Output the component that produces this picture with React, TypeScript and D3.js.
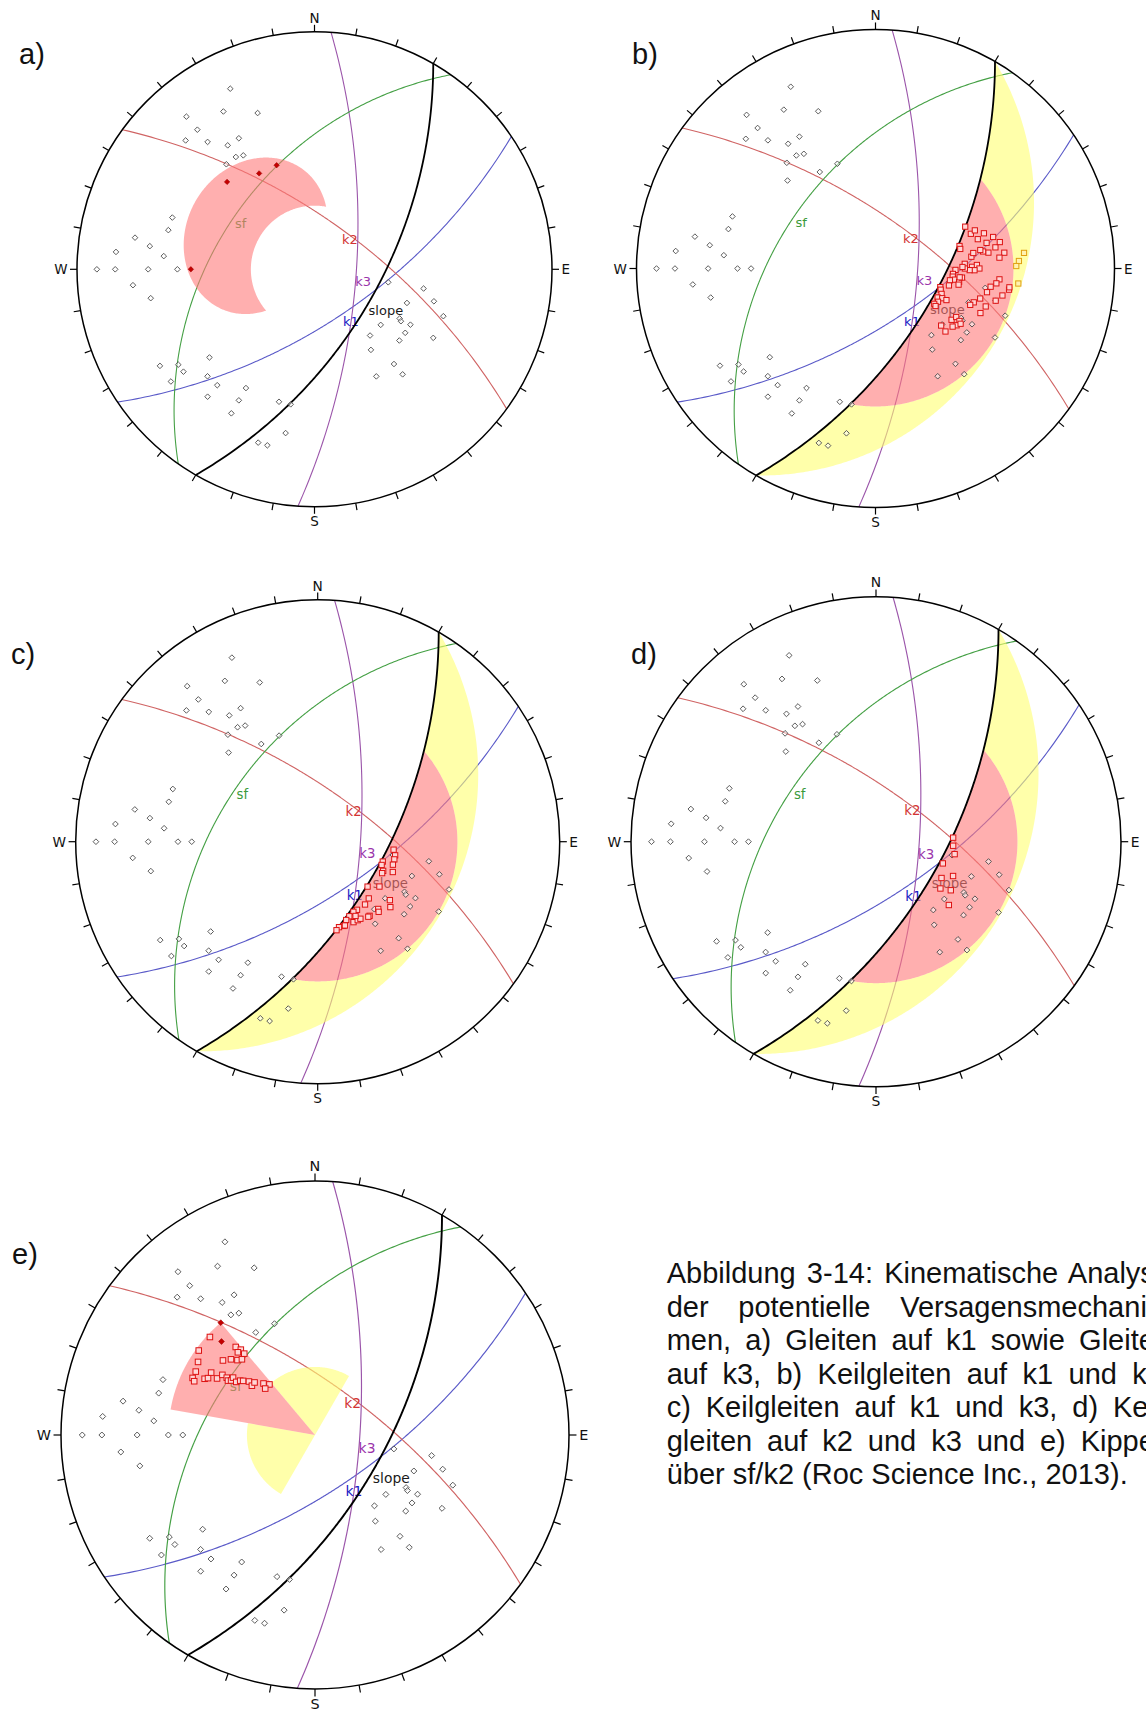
import React, { useLayoutEffect, useRef } from "react";
import * as d3 from "d3";

type TP = [number, number]; // [trend, plunge] in degrees

// ---------------- plane data (dip direction / dip) ----------------
const planeNames = ["slope", "k1", "k2", "k3", "sf"];
const planeDipDirections = [120, 146, 36, 94, 305];
const planeDips = [60, 65, 67, 70, 46];

// ---------------- kinematic analysis parameters ----------------
const frictionAngle = 30;
const secondaryZoneDip = 29;
const lateralLimit = 20;

// ---------------- poles [trend, plunge] ----------------
const polesK1: TP[] = [[335,10],[330,15],[340,20],[320,10],[320,15],[315,15],[320,20],[330,25],[325,25],[325,30],[328,31],[320,30],[315,35],[330,40],[340,40]];
const polesK2: TP[] = [[230,30],[238,15],[235,20],[232,20],[225,25],[232,15],[220,25],[210,30],[220,20],[210,25],[195,30],[190,30],[210,20],[190,20],[198,15],[195,15]];
const polesK3: TP[] = [[290,25],[285,25],[280,15],[278,20],[275,10],[275,25],[270,5],[270,10],[270,20],[270,30],[265,15],[260,20],[270,35]];
const polesSf: TP[] = [[100,55],[100,40],[105,35],[110,45],[110,30],[120,45],[121,44],[120,40],[130,50],[125,40],[140,50],[130,40],[120,30],[145,45],[140,35],[150,35],[140,30]];

const criticalPolesA: TP[] = [[315,35],[330,40],[340,40],[270,35]];
const criticalPolesE: TP[] = [[320,30],[315,35]];

// ---------------- intersections [trend, plunge] ----------------
const intersectionsB: TP[] = [[65,45],[70,44],[69,42],[74,42],[72,39],[77,39],[75,36],[80,36],[78,34],[83,33],[85,35],[82,39],[81,41],[80,42],[75,50],[77,50],[83,46],[81,45],[87,49],[89,46],[88,44],[90,43],[91,45],[91,47],[90,49],[89,50],[91,53],[94,54],[96,54],[98,53],[99,51],[101,51],[96,50],[96,51],[99,55],[103,55],[106,58.5],[108,58],[111,57],[115,58],[114,56],[114,54],[118,57],[121,58],[122,57],[95,35],[97,36],[99,38],[102,39],[102,33],[105,35],[99,31],[98,31],[106,41],[109,43],[111,44],[113,39],[109,38],[124,48],[121,47],[122,45],[125,45],[127,46],[123,44],[132,47],[131,50]];
const intersectionsBSecondary: TP[] = [[84,26],[87,28],[89,29],[96,28]];
const intersectionsC: TP[] = [[96,55],[100,54],[103,54],[107,54],[112,53],[107,58.6],[110,58.6],[114,57],[116,57],[126,55],[132,59],[138,55],[143,54],[150,54],[153,54],[157,53],[160,52],[163,50],[166,50],[168,49],[162,50],[156,50],[153,50],[151,50],[145,49],[146,49],[138,49],[139,48],[129,48],[132,46],[153,52]];
const intersectionsD: TP[] = [[87,55],[93,55],[99,54],[108,58],[119,56],[114,52],[126,54],[123,50],[131,47]];
const intersectionsE: TP[] = [[313,31],[306,31],[318,40],[319,42],[317,42],[319,44],[309,40],[312,42],[314,44],[316,45],[302,33],[298,34],[295,34],[294,35],[297,38],[298,39],[300,42],[303,43],[303,45],[302,46],[303,47],[305,47],[304,49],[306,50],[307,51],[309,53],[308,55],[311,55],[315,58],[318,60],[313,60],[301,39]];

// ---------------- text ----------------
const panelLetters = ["a)", "b)", "c)", "d)", "e)"];
const panelModes = ["planar", "wedge", "wedge", "wedge", "toppling"];
const cardinalLabels = ["N", "E", "S", "W"];
const captionLines = [
  "Abbildung 3-14: Kinematische Analyse",
  "der potentielle Versagensmechanis-",
  "men, a) Gleiten auf k1 sowie Gleiten",
  "auf k3, b) Keilgleiten auf k1 und k2,",
  "c) Keilgleiten auf k1 und k3, d) Keil-",
  "gleiten auf k2 und k3 und e) Kippen",
  "über sf/k2 (Roc Science Inc., 2013).",
];

// ---------------- layout / style ----------------
const LAYOUT = [
  { cx: 314.5, cy: 269.3, r: 237.5, lx: 19, ly: 63.5 },
  { cx: 875.5, cy: 268.5, r: 239, lx: 632, ly: 63.5 },
  { cx: 317.7, cy: 841.7, r: 242, lx: 11, ly: 664 },
  { cx: 876, cy: 841.7, r: 245, lx: 631, ly: 664 },
  { cx: 315, cy: 1435, r: 254, lx: 12, ly: 1264 },
];
const LETTER_SIZE = 29;
const CAPTION = { x: 666.7, y: 1283, dy: 33.5, right: 1171, size: 29 };
const STYLE: Record<string, { line: string; label: string; width: number }> = {
  slope: { line: "#000000", label: "#1a1a1a", width: 1.8 },
  k1: { line: "#5a5ac8", label: "#2020c4", width: 1.1 },
  k2: { line: "#d06464", label: "#d23434", width: 1.1 },
  k3: { line: "#9b55aa", label: "#9a34ab", width: 1.1 },
  sf: { line: "#45a045", label: "#3a9a3a", width: 1.1 },
};
const PINK = "#ff7a7a";
const YELLOW = "#ffff71";
const ZONE_OPACITY = 0.6;

const rad = Math.PI / 180;
const apparentDip = (dip: number, delta: number) =>
  Math.atan(Math.tan(dip * rad) * Math.cos(delta * rad)) / rad;
const steps = (a: number, b: number, n = 0.5) => {
  const out: number[] = [];
  const span = Math.abs(b - a);
  const sgn = b >= a ? 1 : -1;
  const cnt = Math.ceil(span / n);
  for (let i = 0; i <= cnt; i++) out.push(a + sgn * Math.min(i * n, span));
  return out;
};

function Stereonet({ index }: { index: number }) {
  const L = LAYOUT[index];
  const mode = panelModes[index];
  const k = L.r / 238;
  const proj = d3.geoStereographic().rotate([0, -90, 0]).scale(L.r).translate([L.cx, L.cy]);
  const P = (trend: number, plunge: number): [number, number] =>
    proj([180 - trend, plunge]) as [number, number];
  const lineGen = d3.line<[number, number]>();
  const pathOf = (pts: [number, number][], close = false) => (lineGen(pts) || "") + (close ? "Z" : "");
  const gc = (dd: number, dip: number) => steps(-90, 90).map((a) => P(dd + a, apparentDip(dip, a)));

  const sdd = planeDipDirections[0];
  const sdip = planeDips[0];
  const d0 = Math.acos(Math.tan(frictionAngle * rad) / Math.tan(sdip * rad)) / rad;

  const yellow: string[] = [];
  const pink: string[] = [];
  if (mode === "planar") {
    pink.push(pathOf([
      ...steps(-d0, d0).map((a) => P(sdd + 180 + a, 90 - apparentDip(sdip, a))),
      ...steps(d0, -d0).map((a) => P(sdd + 180 + a, 90 - frictionAngle)),
    ], true));
  } else if (mode === "wedge") {
    yellow.push(pathOf([
      ...steps(-90, 90).map((a) => P(sdd + a, apparentDip(secondaryZoneDip, a))),
      ...steps(90, d0).map((a) => P(sdd + a, apparentDip(sdip, a))),
      ...steps(d0, -d0).map((a) => P(sdd + a, frictionAngle)),
      ...steps(-d0, -90).map((a) => P(sdd + a, apparentDip(sdip, a))),
    ], true));
    pink.push(pathOf([
      ...steps(-d0, d0).map((a) => P(sdd + a, apparentDip(sdip, a))),
      ...steps(d0, -d0).map((a) => P(sdd + a, frictionAngle)),
    ], true));
  } else {
    const back = sdd + 180;
    const c = P(0, 90);
    yellow.push(pathOf([c, ...steps(sdd + 90, back - lateralLimit).map((t) => P(t, 90 - frictionAngle))], true));
    yellow.push(pathOf([c, ...steps(back + lateralLimit, sdd + 270).map((t) => P(t, 90 - frictionAngle))], true));
    pink.push(pathOf([c, ...steps(back - lateralLimit, back + lateralLimit).map((t) => P(t, frictionAngle))], true));
  }

  const allPoles = [...polesK1, ...polesK2, ...polesK3, ...polesSf];
  const critical = mode === "planar" ? criticalPolesA : mode === "toppling" ? criticalPolesE : [];
  const isCrit = (p: TP) => critical.some((c) => c[0] === p[0] && c[1] === p[1]);
  const redSquares = index === 1 ? intersectionsB : index === 2 ? intersectionsC : index === 3 ? intersectionsD : index === 4 ? intersectionsE : [];
  const orangeSquares = index === 1 ? intersectionsBSecondary : [];

  const diamond = (x: number, y: number, s: number) => `M${x},${y - s}L${x + s},${y}L${x},${y + s}L${x - s},${y}Z`;
  const ticks = d3.range(0, 360, 10).map((az) => {
    const s = Math.sin(az * rad), c = Math.cos(az * rad);
    return { az, x1: L.cx + L.r * s, y1: L.cy - L.r * c, x2: L.cx + (L.r + 7 * k) * s, y2: L.cy - (L.r + 7 * k) * c };
  });
  const fs = 13 * k;
  const cardPos = [
    { x: L.cx, y: L.cy - L.r - 9 * k, anchor: "middle" },
    { x: L.cx + L.r + 9.5 * k, y: L.cy + 5 * k, anchor: "start" },
    { x: L.cx, y: L.cy + L.r + 19 * k, anchor: "middle" },
    { x: L.cx - L.r - 9.5 * k, y: L.cy + 5 * k, anchor: "end" },
  ];

  return (
    <g>
      {planeNames.map((n, i) =>
        i === 0 ? null : (
          <path key={n} d={pathOf(gc(planeDipDirections[i], planeDips[i]))} fill="none"
            stroke={STYLE[n].line} strokeWidth={STYLE[n].width * k} />
        )
      )}
      {planeNames.map((n, i) => {
        const [x, y] = P(planeDipDirections[i], planeDips[i]);
        return (
          <text key={"l" + n} x={x - 1 * k} y={y + 13.5 * k} fontSize={fs} fontFamily="DejaVu Sans, sans-serif"
            fill={STYLE[n].label}>{n}</text>
        );
      })}
      {yellow.map((d, i) => <path key={"y" + i} d={d} fill={YELLOW} fillOpacity={ZONE_OPACITY} stroke="none" />)}
      {pink.map((d, i) => <path key={"p" + i} d={d} fill={PINK} fillOpacity={ZONE_OPACITY} stroke="none" />)}
      <path d={pathOf(gc(sdd, sdip))} fill="none" stroke={STYLE.slope.line} strokeWidth={STYLE.slope.width * k} />
      {allPoles.map((p, i) => {
        const [x, y] = P(p[0], p[1]);
        return isCrit(p) ? (
          <path key={"c" + i} d={diamond(x, y, 2.7 * k)} fill="#c40000" stroke="#a00000" strokeWidth={0.6} />
        ) : (
          <path key={"g" + i} d={diamond(x, y, 2.8 * k)} fill="#ffffff" fillOpacity={0.5} stroke="#4a4a4a" strokeWidth={0.9} />
        );
      })}
      {orangeSquares.map((p, i) => {
        const [x, y] = P(p[0], p[1]);
        const s = 2.6 * k;
        return <rect key={"o" + i} x={x - s} y={y - s} width={2 * s} height={2 * s} fill="#fff2b0" stroke="#e0a010" strokeWidth={1} />;
      })}
      {redSquares.map((p, i) => {
        const [x, y] = P(p[0], p[1]);
        const s = 2.6 * k;
        return <rect key={"r" + i} x={x - s} y={y - s} width={2 * s} height={2 * s} fill="#ffd6d6" stroke="#dd1111" strokeWidth={1} />;
      })}
      <circle cx={L.cx} cy={L.cy} r={L.r} fill="none" stroke="#000" strokeWidth={1.5} />
      {ticks.map((t) => (
        <line key={"t" + t.az} x1={t.x1} y1={t.y1} x2={t.x2} y2={t.y2} stroke="#000" strokeWidth={1.2} />
      ))}
      {cardinalLabels.map((c, i) => (
        <text key={c} x={cardPos[i].x} y={cardPos[i].y} textAnchor={cardPos[i].anchor as any} fontSize={13.5 * k}
          fontFamily="DejaVu Sans, sans-serif" fill="#111">{c}</text>
      ))}
      <text x={L.lx} y={L.ly} fontSize={LETTER_SIZE} fontFamily="Liberation Sans, Arial, sans-serif" fill="#111">
        {panelLetters[index]}
      </text>
    </g>
  );
}

function Caption() {
  const refs = useRef<(SVGTextElement | null)[]>([]);
  useLayoutEffect(() => {
    captionLines.forEach((line, i) => {
      const el = refs.current[i];
      if (!el || i === captionLines.length - 1) return;
      el.style.wordSpacing = "0px";
      const w = el.getComputedTextLength();
      const gaps = (line.match(/ /g) || []).length;
      if (gaps > 0) el.style.wordSpacing = `${Math.max(0, (CAPTION.right - CAPTION.x - w) / gaps)}px`;
    });
  }, []);
  return (
    <g>
      {captionLines.map((line, i) => (
        <text key={i} ref={(el) => { refs.current[i] = el; }} x={CAPTION.x} y={CAPTION.y + i * CAPTION.dy}
          fontSize={CAPTION.size} fontFamily="Liberation Sans, Arial, sans-serif" fill="#111">
          {line}
        </text>
      ))}
    </g>
  );
}

export default function App() {
  return (
    <svg width={1146} height={1713} viewBox="0 0 1146 1713"
      style={{ position: "absolute", left: 0, top: 0, display: "block", background: "#fff" }}>
      <rect x={0} y={0} width={1146} height={1713} fill="#fff" />
      {LAYOUT.map((_, i) => <Stereonet key={i} index={i} />)}
      <Caption />
    </svg>
  );
}
